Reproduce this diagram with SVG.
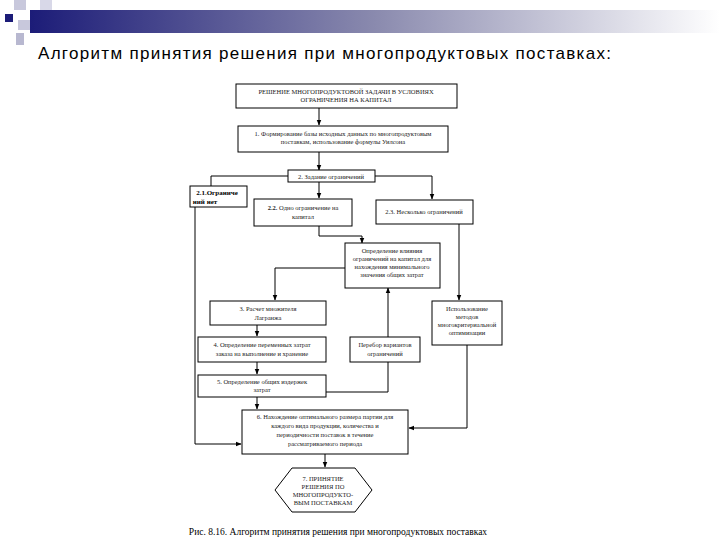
<svg xmlns="http://www.w3.org/2000/svg" width="720" height="540" viewBox="0 0 720 540">
<defs>
<linearGradient id="g" x1="0" x2="1"><stop offset="0" stop-color="#1c1c78"/><stop offset="0.5" stop-color="#8a8aae"/><stop offset="1" stop-color="#ffffff"/></linearGradient>
<marker id="a" viewBox="0 0 10 10" refX="9" refY="5" markerWidth="6" markerHeight="6" orient="auto"><path d="M0,1 L10,5 L0,9z" fill="#000"/></marker>
<style>
.b{fill:#fff;stroke:#000;stroke-width:1}
.t{font-family:"Liberation Serif",serif;font-size:6.5px;fill:#222;text-anchor:middle}
.tb{font-family:"Liberation Serif",serif;font-size:7px;font-weight:bold;fill:#000;text-anchor:middle}
.c{fill:none;stroke:#000;stroke-width:1}
.ca{fill:none;stroke:#000;stroke-width:1;marker-end:url(#a)}
</style>
</defs>
<rect width="720" height="540" fill="#fff"/>
<g id="header">
<rect x="30" y="10" width="690" height="23" fill="url(#g)"/>
<rect x="14" y="0" width="12" height="10" fill="#c8c8dc"/>
<rect x="40" y="0" width="12" height="10" fill="#d8d8e8"/>
<rect x="5" y="14" width="8" height="8" fill="#1c1c78"/>
<rect x="18" y="20" width="12" height="10" fill="#c8c8dc"/>
<rect x="16" y="33" width="8" height="12" fill="#b8b8d0"/>
<text x="38" y="59" font-family="Liberation Sans,Arial,sans-serif" font-size="17" letter-spacing="1.3" fill="#000">Алгоритм принятия решения при многопродуктовых поставках:</text>
</g>
<g id="connectors">
<path class="ca" d="M319,108 V125"/>
<path class="ca" d="M319,152 V170"/>
<path class="c" d="M288,176 H211 V186"/>
<path class="ca" d="M375,176 H432 V199"/>
<path class="ca" d="M319,181 V198"/>
<path class="ca" d="M319,226 V236 H362 V243"/>
<path class="ca" d="M345,268 H275 V300"/>
<path class="ca" d="M257,325 V336"/>
<path class="ca" d="M257,362 V374"/>
<path class="ca" d="M326,392 H388 V288"/>
<path class="ca" d="M459,224 V300"/>
<path class="ca" d="M467,345 V428 H409"/>
<path class="ca" d="M195,207 V444 H241"/>
<path class="ca" d="M257,397 V409"/>
<path class="ca" d="M325,454 V467"/>
</g>
<g id="n0"><rect class="b" x="236" y="84" width="221" height="24"/>
<text class="t" x="346" y="94">РЕШЕНИЕ МНОГОПРОДУКТОВОЙ ЗАДАЧИ В УСЛОВИЯХ</text>
<text class="t" x="346" y="102">ОГРАНИЧЕНИЯ НА КАПИТАЛ</text></g>
<g id="n1"><rect class="b" x="238" y="126" width="210" height="26"/>
<text class="t" x="343" y="136">1. Формирование базы исходных данных по многопродуктовым</text>
<text class="t" x="343" y="144">поставкам, использование формулы Уилсона</text></g>
<g id="n2"><rect class="b" x="288" y="170" width="87" height="12"/>
<text class="t" x="331" y="179">2. Задание ограничений</text></g>
<g id="n21"><rect class="b" x="190" y="186" width="57" height="21"/>
<text class="tb" x="217" y="195" font-size="6.5">2.1.Ограниче</text><text class="tb" x="205" y="204" font-size="6.5">ний нет</text></g>
<g id="n22"><rect class="b" x="254" y="199" width="98" height="27"/>
<text class="t" x="303" y="210"><tspan font-weight="bold">2.2.</tspan> Одно ограничение на</text><text class="t" x="303" y="219">капитал</text></g>
<g id="n23"><rect class="b" x="376" y="200" width="97" height="24"/>
<text class="t" x="424" y="214">2.3. Несколько ограничений</text></g>
<g id="nd"><rect class="b" x="345" y="243" width="95" height="45"/>
<text class="t" x="392" y="253">Определение влияния</text>
<text class="t" x="392" y="261">ограничений на капитал для</text>
<text class="t" x="392" y="269">нахождения минимального</text>
<text class="t" x="392" y="277">значения общих затрат</text></g>
<g id="n3"><rect class="b" x="210" y="301" width="116" height="24"/>
<text class="t" x="268" y="311">3. Расчет множителя</text><text class="t" x="268" y="320">Лагранжа</text></g>
<g id="n4"><rect class="b" x="198" y="337" width="128" height="25"/>
<text class="t" x="262" y="347">4. Определение переменных затрат</text><text class="t" x="262" y="356">заказа на выполнение и хранение</text></g>
<g id="n5"><rect class="b" x="198" y="375" width="128" height="22"/>
<text class="t" x="262" y="384">5. Определение общих издержек</text><text class="t" x="262" y="392">затрат</text></g>
<g id="np"><rect class="b" x="350" y="337" width="70" height="25"/>
<text class="t" x="385" y="347">Перебор вариантов</text><text class="t" x="385" y="356">ограничений</text></g>
<g id="nu"><rect class="b" x="432" y="301" width="70" height="44"/>
<text class="t" x="467" y="311">Использование</text><text class="t" x="467" y="319">методов</text>
<text class="t" x="467" y="327">многокритериальной</text><text class="t" x="467" y="335">оптимизации</text></g>
<g id="n6"><rect class="b" x="242" y="410" width="166" height="44"/>
<text class="t" x="325" y="419">6. Нахождение оптимального размера партии для</text>
<text class="t" x="325" y="428">каждого вида продукции, количества и</text>
<text class="t" x="325" y="437">периодичности поставок в течение</text>
<text class="t" x="325" y="446">рассматриваемого периода</text></g>
<g id="n7"><polygon class="b" points="275,490 292,468 355,468 372,490 355,512 292,512"/>
<text class="t" x="323" y="481">7. ПРИНЯТИЕ</text><text class="t" x="323" y="489">РЕШЕНИЯ ПО</text>
<text class="t" x="323" y="497">МНОГОПРОДУКТО-</text><text class="t" x="323" y="505">ВЫМ ПОСТАВКАМ</text></g>
<text x="338" y="535" text-anchor="middle" font-family="Liberation Serif,serif" font-size="9.5" fill="#000">Рис. 8.16. Алгоритм принятия решения при многопродуктовых поставках</text>
</svg>
